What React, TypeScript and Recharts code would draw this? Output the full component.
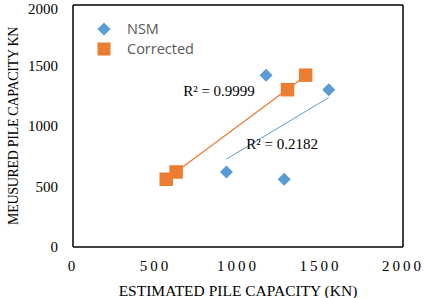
import {
  ScatterChart,
  Scatter,
  XAxis,
  YAxis,
  ReferenceLine,
  ReferenceDot,
} from "recharts"

const nsmEstimated = [1170, 1550, 930, 1280]
const nsmMeasured = [1420, 1300, 620, 560]
const correctedEstimated = [1410, 1300, 625, 565]
const correctedMeasured = [1420, 1300, 620, 560]
const xTicks = [0, 500, 1000, 1500, 2000]
const yTicks = [0, 500, 1000, 1500, 2000]
const nsmR2 = "R² = 0.2182"
const correctedR2 = "R² = 0.9999"

const BLUE = "#5B9BD5"
const ORANGE = "#ED7D31"
const serif = "'Liberation Serif', 'Times New Roman', serif"

const toPoints = (xs: number[], ys: number[]) => xs.map((x, i) => ({ x, y: ys[i] }))

// least squares fit, returns segment between min and max x
function trend(xs: number[], ys: number[]) {
  const n = xs.length
  const mx = xs.reduce((a, b) => a + b, 0) / n
  const my = ys.reduce((a, b) => a + b, 0) / n
  let sxy = 0
  let sxx = 0
  xs.forEach((x, i) => {
    sxy += (x - mx) * (ys[i] - my)
    sxx += (x - mx) * (x - mx)
  })
  const m = sxy / sxx
  const b = my - m * mx
  const x0 = Math.min(...xs)
  const x1 = Math.max(...xs)
  return [
    { x: x0, y: m * x0 + b },
    { x: x1, y: m * x1 + b },
  ]
}

const Diamond = (props: any) => {
  const { cx, cy } = props
  const r = 6.5
  return (
    <polygon
      points={`${cx},${cy - r} ${cx + r},${cy} ${cx},${cy + r} ${cx - r},${cy}`}
      fill={BLUE}
    />
  )
}

const Square = (props: any) => {
  const { cx, cy } = props
  const s = 13.5
  return <rect x={cx - s / 2} y={cy - s / 2} width={s} height={s} fill={ORANGE} />
}

const LegendBox = () => (
  <div
    style={{
      position: "absolute",
      left: 93,
      top: 19,
      fontFamily: "'Open Sans', sans-serif",
      fontSize: 14.5,
      color: "#595959",
      lineHeight: "20px",
    }}
  >
    <div style={{ display: "flex", alignItems: "center" }}>
      <svg width={24} height={20}>
        <polygon points="11,3.5 17.5,10 11,16.5 4.5,10" fill={BLUE} />
      </svg>
      <span style={{ marginLeft: 10 }}>NSM</span>
    </div>
    <div style={{ display: "flex", alignItems: "center" }}>
      <svg width={24} height={20}>
        <rect x={4.5} y={3.5} width={13} height={13} fill={ORANGE} />
      </svg>
      <span style={{ marginLeft: 10 }}>Corrected</span>
    </div>
  </div>
)

export default function App() {
  const nsm = toPoints(nsmEstimated, nsmMeasured)
  const corrected = toPoints(correctedEstimated, correctedMeasured)
  const nsmLine = trend(nsmEstimated, nsmMeasured)
  const corrLine = trend(correctedEstimated, correctedMeasured)

  return (
    <div style={{ position: "absolute", left: 0, top: 0, width: 424, height: 298, background: "#fff" }}>
      <ScatterChart width={424} height={298} margin={{ top: 5, right: 21, bottom: 0, left: 0 }}>
        <XAxis
          type="number"
          dataKey="x"
          domain={[0, 2000]}
          ticks={xTicks}
          tickLine={false}
          tickSize={0}
          tickMargin={13}
          height={51}
          axisLine={{ stroke: "#000", strokeWidth: 1.5 }}
          tick={{ fill: "#000", fontFamily: serif, fontSize: 15, letterSpacing: 3 }}
          label={{
            value: "ESTIMATED PILE CAPACITY (KN)",
            position: "insideBottom",
            offset: 2,
            style: { fill: "#000", fontFamily: serif, fontSize: 15.5 },
          }}
        />
        <YAxis
          type="number"
          dataKey="y"
          domain={[0, 2000]}
          ticks={yTicks}
          tickLine={false}
          tickSize={0}
          tickMargin={15}
          width={73}
          axisLine={{ stroke: "#000", strokeWidth: 1.5 }}
          tick={{ fill: "#000", fontFamily: serif, fontSize: 15 }}
          label={{
            value: "MEUSURED PILE CAPACITY KN",
            angle: -90,
            position: "insideLeft",
            offset: 13,
            style: { textAnchor: "middle", fill: "#000", fontFamily: serif, fontSize: 14, letterSpacing: -0.3 },
          }}
        />
        <ReferenceLine y={2000} stroke="#000" strokeWidth={1.5} />
        <ReferenceLine x={2000} stroke="#000" strokeWidth={1.5} />
        <ReferenceLine segment={corrLine} stroke={ORANGE} strokeWidth={1.3} />
        <ReferenceLine segment={nsmLine} stroke={BLUE} strokeWidth={1} />
        <Scatter name="NSM" data={nsm} shape={<Diamond />} isAnimationActive={false} />
        <Scatter name="Corrected" data={corrected} shape={<Square />} isAnimationActive={false} />
        <ReferenceDot
          x={885}
          y={1290}
          r={0}
          label={{ value: correctedR2, position: "center", style: { fill: "#000", fontFamily: serif, fontSize: 15 } }}
        />
        <ReferenceDot
          x={1267}
          y={850}
          r={0}
          label={{ value: nsmR2, position: "center", style: { fill: "#000", fontFamily: serif, fontSize: 15 } }}
        />
      </ScatterChart>
      <LegendBox />
    </div>
  )
}
